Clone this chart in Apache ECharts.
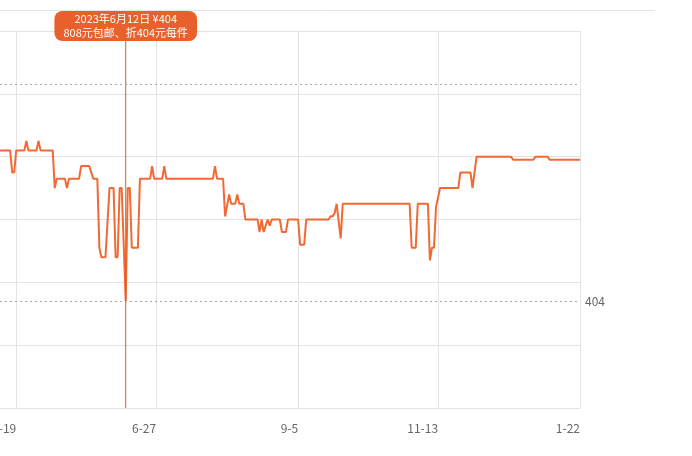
<!DOCTYPE html>
<html>
<head>
<meta charset="utf-8">
<script src="https://cdn.jsdelivr.net/npm/echarts@6/dist/echarts.min.js"></script>
<style>
  html, body { margin: 0; padding: 0; background: #fff; }
  #chart { width: 692px; height: 456px; }
</style>
</head>
<body>
<div id="chart"></div>
<script>
// ---- data ----
var dates = [
  '2023-04-11','2023-04-16','2023-04-17','2023-04-18','2023-04-19','2023-04-23','2023-04-24','2023-04-25',
  '2023-04-29','2023-04-30','2023-05-01','2023-05-07','2023-05-08','2023-05-09','2023-05-13','2023-05-14',
  '2023-05-15','2023-05-20','2023-05-21','2023-05-25','2023-05-27','2023-05-29','2023-05-30','2023-05-31',
  '2023-06-02','2023-06-04','2023-06-06','2023-06-07','2023-06-08','2023-06-09','2023-06-10','2023-06-12',
  '2023-06-13','2023-06-14','2023-06-15','2023-06-18','2023-06-19','2023-06-24','2023-06-25','2023-06-26',
  '2023-06-30','2023-07-01','2023-07-02','2023-07-25','2023-07-26','2023-07-27','2023-07-30','2023-07-31',
  '2023-08-02','2023-08-03','2023-08-05','2023-08-06','2023-08-07','2023-08-09','2023-08-10','2023-08-16',
  '2023-08-17','2023-08-18','2023-08-19','2023-08-21','2023-08-22','2023-08-23','2023-08-27','2023-08-28',
  '2023-08-30','2023-08-31','2023-09-05','2023-09-06','2023-09-08','2023-09-09','2023-09-20','2023-09-21',
  '2023-09-22','2023-09-23','2023-09-24','2023-09-26','2023-09-27','2023-10-30','2023-10-31','2023-11-02',
  '2023-11-03','2023-11-08','2023-11-09','2023-11-10','2023-11-11','2023-11-12','2023-11-14','2023-11-23',
  '2023-11-24','2023-11-29','2023-11-30','2023-12-02','2023-12-19','2023-12-20','2023-12-30','2023-12-31',
  '2024-01-06','2024-01-07','2024-01-22'
];
var prices = [
  452,452,445,445,452,452,455,452,
  452,455,452,452,440,443,443,440,
  443,443,447,447,443,443,421,418,
  418,440,440,418,418,440,440,404,
  440,440,421,421,443,443,447,443,
  443,447,443,443,447,443,443,431,
  438,435,435,438,435,435,430,430,
  426,430,426,430,428,430,430,426,
  426,430,430,422,422,430,430,431,
  431,432,435,424,435,435,421,421,
  435,435,417,421,421,434,440,440,
  445,445,440,450,450,449,449,450,
  450,449,449
];
var tickDates = ['2023-04-19','2023-06-27','2023-09-05','2023-11-13','2024-01-22'];
var axisStart = '2023-04-11';
var axisEnd = '2024-01-22';
var yMin = 370, yMax = 490, yStep = 20;
var lowPrice = 404;
var refPrice = 473;
var markDate = '2023-06-12';
var tipLines = ['2023年6月12日 ¥404', '808元包邮、折404元每件'];

// ---- helpers ----
function ts(s) {
  var p = s.split('-');
  return new Date(+p[0], +p[1] - 1, +p[2]).getTime();
}
var seriesData = dates.map(function (d, i) { return [ts(d), prices[i]]; });
var tickValues = tickDates.map(ts);
var markT = ts(markDate);

var chart = echarts.init(document.getElementById('chart'), null, { renderer: 'canvas' });
var grey = '#e3e3e3';
var markColor = '#c8632a';
chart.setOption({
  animation: false,
  backgroundColor: '#fff',
  grid: { left: 0, right: 112, top: 31, bottom: 48, containLabel: false, outerBoundsMode: 'none' },
  graphic: [{
    type: 'line',
    shape: { x1: 0, y1: 10.5, x2: 655, y2: 10.5 },
    style: { stroke: '#e3e3e3', lineWidth: 1 },
    silent: true
  }],
  xAxis: {
    type: 'value',
    min: ts(axisStart),
    max: ts(axisEnd),
    scale: true,
    axisLine: { show: true, lineStyle: { color: grey } },
    axisTick: { show: false, customValues: tickValues },
    splitLine: { show: true, lineStyle: { color: grey, width: 1 } },
    axisLabel: {
      customValues: tickValues,
      align: 'right',
      margin: 14,
      color: '#666',
      fontSize: 12,
      fontFamily: 'Noto Sans CJK SC, sans-serif',
      showMinLabel: true,
      showMaxLabel: true,
      formatter: function (v) {
        var d = new Date(v);
        return (d.getMonth() + 1) + '-' + d.getDate();
      }
    }
  },
  yAxis: {
    type: 'value',
    min: yMin, max: yMax, interval: yStep,
    axisLine: { show: false },
    axisTick: { show: false },
    axisLabel: { show: false },
    splitLine: { show: true, lineStyle: { color: grey, width: 1 } }
  },
  series: [{
    type: 'line',
    data: seriesData,
    showSymbol: false,
    symbol: 'none',
    lineStyle: { color: '#f26a33', width: 2 },
    itemStyle: { color: '#f26a33' },
    z: 3,
    markLine: {
      silent: true,
      symbol: ['none', 'none'],
      animation: false,
      lineStyle: { type: [2, 3], color: '#a8a8a8', width: 1 },
      data: [
        { yAxis: refPrice, label: { show: false } },
        {
          yAxis: lowPrice,
          label: {
            show: true, position: 'end', distance: 5,
            formatter: String(lowPrice),
            color: '#666', fontSize: 12,
            fontFamily: 'Noto Sans CJK SC, sans-serif'
          }
        }
      ]
    }
  }, {
    // crosshair line for the highlighted day
    type: 'line',
    silent: true,
    z: 4,
    showSymbol: true,
    symbol: 'circle',
    symbolSize: 0,
    lineStyle: { color: markColor, width: 1 },
    itemStyle: { color: markColor },
    data: [
      { value: [markT, yMin] },
      {
        value: [markT, yMax],
        label: {
          show: true, position: 'top', distance: 0, offset: [0, 10],
          formatter: tipLines.join('\n'),
          color: '#fff', fontSize: 11, lineHeight: 14,
          fontFamily: 'Noto Sans CJK SC, sans-serif',
          backgroundColor: '#e8612c',
          borderRadius: 8,
          padding: [1, 9],
          align: 'center'
        }
      }
    ]
  }]
});
</script>
</body>
</html>
